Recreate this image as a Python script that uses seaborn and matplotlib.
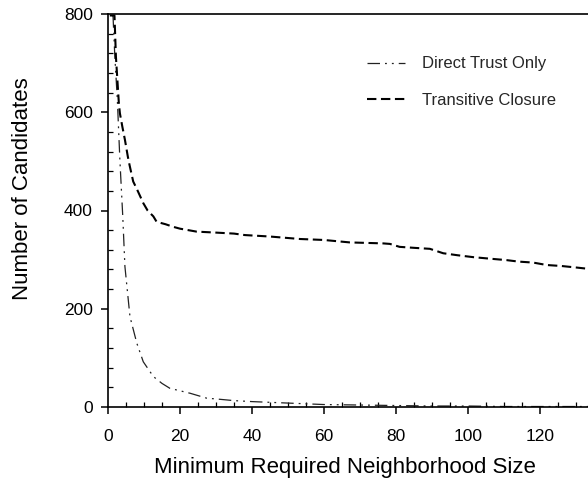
import matplotlib
matplotlib.use("Agg")
import matplotlib.pyplot as plt
from matplotlib.ticker import MultipleLocator
import seaborn as sns
import pandas as pd

# ---- data ----
trans_x = [0.5, 1.8, 2.2, 3.0, 3.3, 4.0, 4.7, 5.5, 6.0, 7.0, 8.0, 9.0, 9.8, 11.0, 12.6, 13.5,
           16.0, 18.0, 20.0, 24.6, 30.0, 35.0, 38.0, 45.0, 53.3, 60.0, 67.2, 72.0, 76.5, 78.3,
           81.0, 85.0, 89.4, 93.1, 97.0, 101.5, 106.0, 110.7, 114.0, 118.1, 121.9, 126.0, 130.0, 135.0]
trans_y = [797, 797, 713, 620, 598, 570, 544, 510, 492, 459, 444, 428, 415, 400, 388, 377,
           372, 367, 363, 357, 355, 353, 350, 347, 342, 340, 335, 334, 333, 332,
           326, 324, 322, 313, 309, 305, 302, 299, 296, 294, 289, 287, 284, 280]

direct_x = [1.2, 1.4, 1.9, 2.6, 3.3, 4.1, 4.7, 6.1, 8.0, 9.8, 12.6, 15.0, 17.2, 20.0, 22.8,
            27.4, 30.6, 35.0, 40.0, 50.0, 60.0, 70.0, 80.0, 90.0, 100.0, 110.0, 120.0, 135.0]
direct_y = [797, 795, 713, 625, 503, 388, 286, 184, 130, 92, 62, 48, 38, 33, 28,
            18, 16, 13, 11, 8, 5, 4, 3, 2, 2, 1, 1, 1]

series_names = ["Direct Trust Only", "Transitive Closure"]
x_label = "Minimum Required Neighborhood Size"
y_label = "Number of Candidates"

df_direct = pd.DataFrame({"x": direct_x, "y": direct_y})
df_trans = pd.DataFrame({"x": trans_x, "y": trans_y})

sns.set_theme(style="white")
plt.rcParams["font.family"] = ["Liberation Sans", "DejaVu Sans"]

fig = plt.figure(figsize=(5.88, 4.95), dpi=100)
ax = fig.add_axes([108 / 588, 88 / 495, 486 / 588, 393 / 495])

sns.lineplot(data=df_direct, x="x", y="y", ax=ax, sort=False, estimator=None,
             color="#222222", linewidth=0.9,
             linestyle=(0, (10, 4, 1.5, 4, 1.5, 4)), label=series_names[0])
sns.lineplot(data=df_trans, x="x", y="y", ax=ax, sort=False, estimator=None,
             color="black", linewidth=1.5,
             linestyle=(0, (4.5, 2.2)), label=series_names[1])

ax.set_xlim(0, 135)
ax.set_ylim(0, 800)
ax.xaxis.set_major_locator(MultipleLocator(20))
ax.xaxis.set_minor_locator(MultipleLocator(5))
ax.yaxis.set_major_locator(MultipleLocator(200))
ax.yaxis.set_minor_locator(MultipleLocator(40))
ax.set_xticks([0, 20, 40, 60, 80, 100, 120])

ax.tick_params(axis="both", which="major", direction="out", length=5, width=1.1,
               color="black", labelsize=12.5, labelcolor="black")
ax.tick_params(axis="x", which="major", pad=11)
ax.tick_params(axis="y", which="major", pad=6)
ax.tick_params(axis="both", which="minor", direction="in", length=3.5, width=0.9,
               color="black")
ax.tick_params(bottom=True, left=True, top=False, right=False, which="both")

for side in ["left", "bottom", "top"]:
    ax.spines[side].set_visible(True)
    ax.spines[side].set_color("black")
    ax.spines[side].set_linewidth(1.2)
ax.spines["right"].set_visible(False)

ax.set_xlabel(x_label, fontsize=16, color="black")
ax.set_ylabel(y_label, fontsize=16, color="black")
ax.xaxis.set_label_coords(0.487, -0.126)
ax.yaxis.set_label_coords(-0.154, 0.555)

leg = ax.legend(loc="upper left", bbox_to_anchor=(0.533, 0.892), frameon=False,
                fontsize=12, handlelength=2.3, handletextpad=1.0, labelspacing=1.27,
                borderpad=0, borderaxespad=0)

fig.savefig("out.png", dpi=100)
